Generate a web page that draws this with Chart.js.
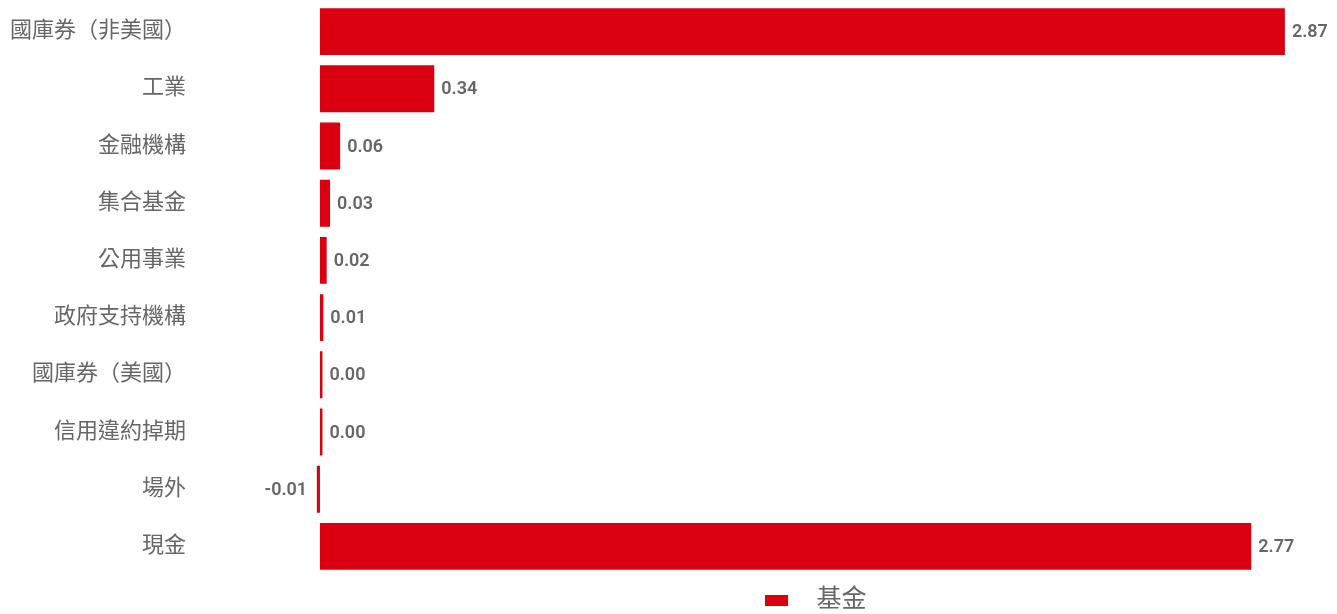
<!DOCTYPE html>
<html>
<head>
<meta charset="utf-8">
<script src="https://cdn.jsdelivr.net/npm/chart.js@4/dist/chart.umd.min.js"></script>
<style>
  html, body { margin: 0; padding: 0; background: #fff; }
  #wrap { width: 1337px; height: 614px; position: relative; }
</style>
</head>
<body>
<div id="wrap"><canvas id="c"></canvas></div>
<script>
const categories = ['國庫券（非美國）', '工業', '金融機構', '集合基金', '公用事業', '政府支持機構', '國庫券（美國）', '信用違約掉期', '場外', '現金'];
const seriesName = '基金';
const fundValues = [2.87, 0.34, 0.06, 0.03, 0.02, 0.01, 0.004, 0.004, -0.01, 2.77];

const RED = '#DA0011';
const GREY = '#666666';
const FONT = "Roboto, 'Noto Sans CJK TC', 'Noto Sans', sans-serif";

// legend marker image: red rectangle with transparent space on its right
const marker = document.createElement('canvas');
marker.width = 39; marker.height = 11;
(function () { const g = marker.getContext('2d'); g.fillStyle = RED; g.fillRect(0, 0, 23, 11); })();

const valueLabels = {
  id: 'valueLabels',
  afterDatasetsDraw(chart) {
    const ctx = chart.ctx;
    const meta = chart.getDatasetMeta(0);
    ctx.save();
    ctx.font = '600 18px ' + FONT;
    ctx.fillStyle = GREY;
    ctx.textBaseline = 'middle';
    meta.data.forEach((bar, i) => {
      const v = chart.data.datasets[0].data[i];
      const txt = v.toFixed(2);
      if (v < 0) {
        ctx.textAlign = 'right';
        ctx.fillText(txt, Math.min(bar.x, bar.base) - 9.5, bar.y + 1);
      } else {
        ctx.textAlign = 'left';
        ctx.fillText(txt, Math.max(bar.x, bar.base) + 7, bar.y + 1);
      }
    });
    ctx.restore();
  }
};

const legendShift = {
  id: 'legendShift',
  afterLayout(chart) {
    const lg = chart.legend, ca = chart.chartArea;
    if (!lg) return;
    const dy = 9;
    lg.left = ca.left - 11; lg.right = ca.right - 11;
    lg.top += dy; lg.bottom += dy;
  }
};

new Chart(document.getElementById('c'), {
  type: 'bar',
  data: {
    labels: categories,
    datasets: [{
      label: seriesName,
      data: fundValues,
      backgroundColor: RED,
      borderWidth: 0,
      barPercentage: 0.82,
      categoryPercentage: 1,
      minBarLength: 2.5
    }]
  },
  options: {
    indexAxis: 'y',
    responsive: true,
    maintainAspectRatio: false,
    animation: false,
    layout: { padding: { left: 10, right: 0, top: 3, bottom: 0 } },
    scales: {
      x: {
        min: -0.01,
        max: 3.025,
        display: false,
        grid: { display: false }
      },
      y: {
        grid: { display: false, drawTicks: false },
        border: { display: false },
        ticks: {
          color: GREY,
          font: { family: FONT, size: 22 },
          padding: 130.6
        },
        afterFit(scale) {
          scale.width = 306.6;
          scale.paddingTop = 0;
          scale.paddingBottom = 0;
        }
      }
    },
    plugins: {
      legend: {
        position: 'bottom',
        labels: {
          color: GREY,
          font: { family: FONT, size: 25 },
          usePointStyle: true,
          pointStyle: marker,
          pointStyleWidth: 39,
          boxHeight: 11,
          padding: 4
        }
      },
      tooltip: { enabled: false }
    }
  },
  plugins: [valueLabels, legendShift]
});
</script>
</body>
</html>
